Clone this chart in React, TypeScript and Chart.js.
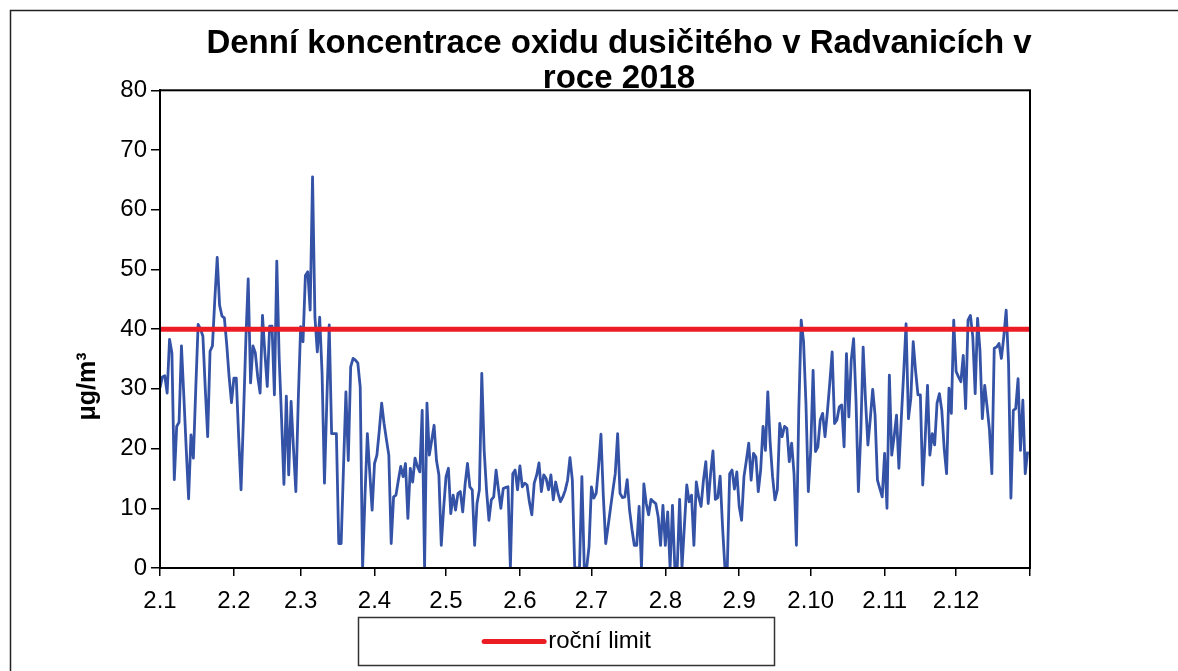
import { useEffect, useRef } from 'react';
import { Chart, registerables } from 'chart.js';

Chart.register(...registerables);

const FONT = "'Liberation Sans', Arial, sans-serif";

const TITLE_LINES = ['Denní koncentrace oxidu dusičitého v Radvanicích v', 'roce 2018'];
const Y_TITLE = 'μg/m³';
const SERIES_LABEL = 'NO2 denní průměr';
const LIMIT_LABEL = 'roční limit';
const LIMIT_VALUE = 40;
const YEAR = 2018;
const START_DAY = 2; // first measurement: 2.1.
const MONTH_TICK_LABELS = ['2.1', '2.2', '2.3', '2.4', '2.5', '2.6', '2.7', '2.8', '2.9', '2.10', '2.11', '2.12', ''];

// daily NO2 concentrations (µg/m³), from 2.1.2018
const NO2_DAILY = [
  30.2, 32, 32.2, 29.3, 38.3, 36, 14.8, 23.7, 24.4, 37.2,
  28.8, 20, 11.6, 22.3, 18.4, 30, 40.8, 40, 38.8, 30,
  22, 36.3, 37.2, 45, 52, 44, 42.2, 41.9, 37.4, 32,
  27.7, 31.8, 31.8, 22, 13.1, 25, 38, 48.4, 31, 37.2,
  36, 32, 29.3, 42.3, 36, 30.4, 40.5, 40.5, 29, 51.4,
  35.2, 25, 14, 28.8, 15.6, 27.9, 20, 12.8, 28, 40.4,
  37.9, 49, 49.6, 43.2, 65.5, 42, 36.2, 42, 32.6, 14.2,
  28.1, 40.7, 22.5, 22.5, 22.5, 4.1, 4.1, 17, 29.5, 18,
  33.7, 35.1, 34.8, 34.3, 30.3, 0, 12, 22.5, 16, 9.7,
  17.5, 18.9, 23, 27.6, 24.2, 21.5, 18.9, 4.1, 11.9, 12.2,
  14.7, 17, 15.3, 17.5, 8.3, 16.7, 14.4, 18.4, 17, 16.1,
  26.4, 0, 27.6, 18.9, 21.4, 23.9, 18, 15.6, 3.8, 10,
  15.3, 16.7, 9.1, 12.2, 9.7, 12.5, 12.8, 9.4, 14, 17.5,
  13.6, 13.1, 3.8, 10.8, 13.1, 32.6, 19.7, 13, 8, 11.4,
  11.9, 16.4, 13.1, 10, 13.3, 13.5, 13.6, 0, 15.8, 16.4,
  13.1, 17.1, 13.6, 14.2, 13.9, 11, 8.9, 14.2, 15.5, 17.6,
  12.8, 15.6, 15, 13.1, 15.6, 11.4, 14.4, 12.5, 11.1, 11.9,
  13, 14.7, 18.5, 14.7, 0, 0, 0, 15.3, 0, 0,
  3.6, 13.6, 11.7, 12.5, 17, 22.4, 12, 4.1, 7, 10,
  13, 15.8, 22.5, 12.5, 11.8, 11.9, 14.8, 9.7, 6.5, 3.8,
  3.8, 10.3, 0, 14.1, 10.8, 8.9, 11.5, 11.1, 10.8, 8.6,
  3.8, 10.5, 3.8, 9.4, 0, 10.5, 0, 0, 11.5, 0,
  7, 13.9, 11.1, 12.2, 3.8, 14.4, 11.9, 10.3, 14.7, 17.8,
  10.8, 15.8, 19.6, 11.5, 11.8, 15.4, 7, 0, 0, 15.8,
  16.4, 13.2, 16.1, 10.3, 8, 15.3, 18, 20.9, 14.7, 19.2,
  18.6, 12.8, 16.4, 23.7, 19.7, 29.5, 20.9, 15.3, 11.4, 13.1,
  24.2, 22, 23.7, 23.4, 17.8, 20.9, 15.8, 3.8, 26.4, 41.5,
  37.9, 27.6, 12.8, 19.7, 33.1, 19.5, 20.3, 24.8, 25.9, 22,
  26.2, 31, 36.2, 24.2, 24.8, 27, 27.3, 20.3, 35.9, 25.3,
  34.8, 38.4, 28.1, 12.8, 22.5, 37, 28, 20.6, 25, 29.9,
  25.6, 14.7, 13.3, 11.9, 19.2, 10, 32.3, 18.9, 22, 25.6,
  16.7, 25, 32.6, 40.9, 25, 28.4, 37.9, 33, 29, 29,
  13.9, 21.4, 30.6, 18.9, 22.5, 20.6, 27.6, 29.2, 26.4, 20,
  15.8, 30.1, 25.9, 41.5, 32.9, 32, 31.2, 35.6, 26.7, 41.5,
  42.3, 38.7, 29.2, 41.8, 36.5, 25, 30.6, 27, 23.1, 15.8,
  36.8, 37, 37.6, 35.1, 38.7, 43.2, 34.3, 11.7, 26.4, 26.7,
  31.7, 19.7, 28.1, 15.8, 19.5,
];

const DAY_MS = 86400000;
const dayIndex = (month: number) =>
  (Date.UTC(YEAR, month, START_DAY) - Date.UTC(YEAR, 0, START_DAY)) / DAY_MS;
const TICK_DAYS = MONTH_TICK_LABELS.map((_, m) => dayIndex(m));
const X_MAX = TICK_DAYS[TICK_DAYS.length - 1];

const decorPlugin = {
  id: 'decor',
  afterDatasetsDraw(chart: any) {
    const { ctx, chartArea: a } = chart;
    ctx.save();
    ctx.strokeStyle = '#000';
    ctx.lineWidth = 2;
    ctx.strokeRect(a.left, a.top, a.right - a.left, a.bottom - a.top);
    ctx.restore();
  },
  afterDraw(chart: any) {
    const { ctx, chartArea: a } = chart;
    ctx.save();
    // outer frame of the picture
    ctx.strokeStyle = '#222';
    ctx.lineWidth = 1.5;
    ctx.beginPath();
    ctx.moveTo(10.5, chart.height);
    ctx.lineTo(10.5, 10.5);
    ctx.lineTo(chart.width, 10.5);
    ctx.stroke();

    // y axis title (sits below the middle of the axis, as in the original)
    ctx.save();
    ctx.translate(a.left - 72, a.top + (a.bottom - a.top) * 0.62);
    ctx.rotate(-Math.PI / 2);
    ctx.font = `bold 25px ${FONT}`;
    ctx.fillStyle = '#000';
    ctx.textAlign = 'center';
    ctx.textBaseline = 'middle';
    ctx.fillText(Y_TITLE, 0, 0);
    ctx.restore();

    // legend box
    const ds = chart.data.datasets[0];
    const bx = a.left + 198.5;
    const by = a.bottom + 49.5;
    const bw = 416;
    const bh = 48;
    ctx.strokeStyle = '#333';
    ctx.lineWidth = 1.5;
    ctx.strokeRect(bx, by, bw, bh);
    ctx.font = `24px ${FONT}`;
    const tw = ctx.measureText(ds.label).width;
    const lineLen = 64;
    const gap = 2;
    const total = lineLen + gap + tw;
    const sx = bx + (bw - total) / 2;
    const cy = by + bh / 2;
    ctx.strokeStyle = ds.borderColor;
    ctx.lineWidth = 5;
    ctx.lineCap = 'round';
    ctx.beginPath();
    ctx.moveTo(sx + 2, cy);
    ctx.lineTo(sx + lineLen - 2, cy);
    ctx.stroke();
    ctx.fillStyle = '#000';
    ctx.textBaseline = 'middle';
    ctx.textAlign = 'left';
    ctx.fillText(ds.label, sx + lineLen + gap, cy);
    ctx.restore();
  },
};

export default function App() {
  const ref = useRef<HTMLCanvasElement | null>(null);

  useEffect(() => {
    if (!ref.current) return;
    const chart = new Chart(ref.current, {
      type: 'line',
      data: {
        datasets: [
          {
            label: LIMIT_LABEL,
            data: [
              { x: 0, y: LIMIT_VALUE },
              { x: X_MAX, y: LIMIT_VALUE },
            ],
            borderColor: '#EC1C24',
            backgroundColor: '#EC1C24',
            borderWidth: 5,
            pointRadius: 0,
            yAxisID: 'y',
          },
          {
            label: SERIES_LABEL,
            data: NO2_DAILY.map((v, i) => ({ x: i, y: v })),
            borderColor: '#3453A6',
            backgroundColor: '#3453A6',
            borderWidth: 2.8,
            pointRadius: 0,
            tension: 0,
            borderJoinStyle: 'round',
            yAxisID: 'y',
          },
        ],
      },
      options: {
        animation: false,
        responsive: false,
        devicePixelRatio: 1,
        events: [],
        layout: { padding: { left: 60, right: 0, top: 10, bottom: 55 } },
        plugins: {
          legend: { display: false },
          tooltip: { enabled: false },
          title: {
            display: true,
            text: TITLE_LINES,
            color: '#000',
            font: { family: FONT, size: 33, weight: 'bold', lineHeight: 1.05 },
            padding: { top: 17, bottom: -6 },
          },
        },
        scales: {
          x: {
            type: 'linear',
            min: 0,
            max: X_MAX,
            afterBuildTicks: (s: any) => {
              s.ticks = TICK_DAYS.map((v) => ({ value: v }));
            },
            afterFit: (s: any) => {
              s.height = 48;
            },
            ticks: {
              autoSkip: false,
              maxRotation: 0,
              color: '#000',
              padding: 11,
              font: { family: FONT, size: 24 },
              callback: (_v: any, i: number) => MONTH_TICK_LABELS[i],
            },
            grid: { drawOnChartArea: false, drawTicks: true, tickLength: 8, color: '#000', lineWidth: 1.5 },
            border: { display: true, color: '#000', width: 2 },
          },
          y: {
            type: 'linear',
            position: 'left',
            min: 0,
            max: 80,
            afterFit: (s: any) => {
              s.width = 100;
            },
            ticks: {
              stepSize: 10,
              color: '#000',
              padding: 4,
              font: { family: FONT, size: 24 },
            },
            grid: { drawOnChartArea: false, drawTicks: true, tickLength: 9, color: '#000', lineWidth: 1.5 },
            border: { display: true, color: '#000', width: 2 },
            title: { display: false },
          },
          yR: {
            type: 'linear',
            position: 'right',
            display: true,
            afterFit: (s: any) => {
              s.width = 148;
            },
            ticks: { display: false },
            grid: { display: false },
            border: { display: false },
          },
        },
      },
      plugins: [decorPlugin],
    } as any);
    return () => chart.destroy();
  }, []);

  return (
    <div style={{ position: 'absolute', left: 0, top: 0, width: 1178, height: 671, background: '#fff', overflow: 'hidden' }}>
      <canvas ref={ref} width={1178} height={671} style={{ display: 'block' }} />
    </div>
  );
}
